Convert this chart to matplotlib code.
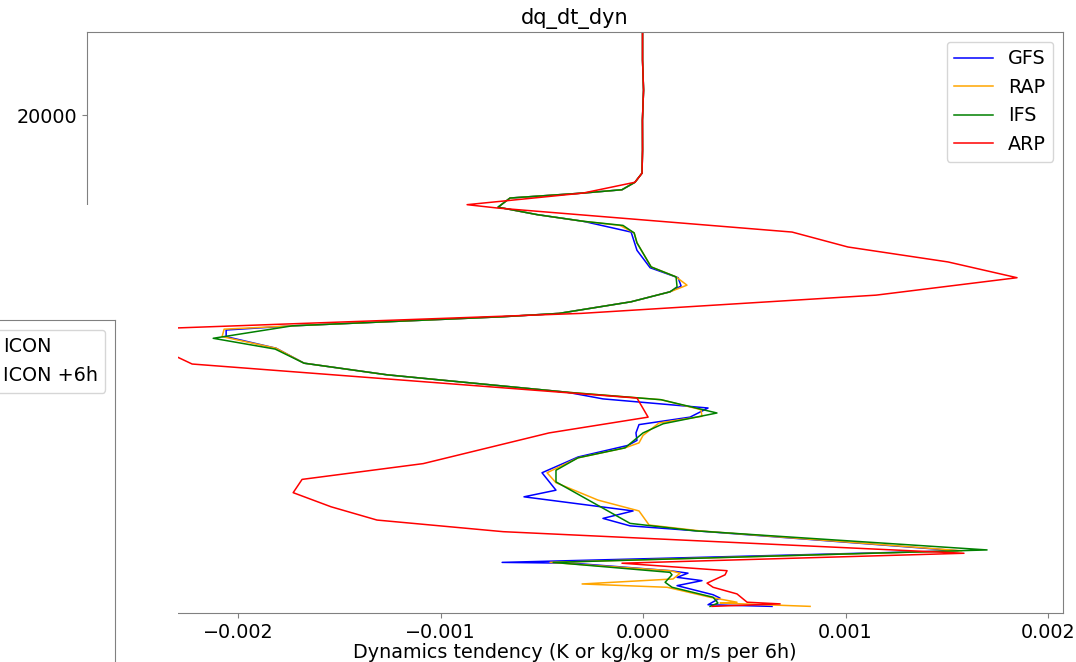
import matplotlib
matplotlib.use('Agg')
import matplotlib.pyplot as plt
from matplotlib.patches import Rectangle

plt.rcParams['font.size'] = 13.8

# perfiles de tendencia dinámica (x) contra presión en Pa (y)
p_gfs = [9000, 13400, 17000, 20600, 24200, 27000, 28100, 29000, 29400, 30000, 31100, 32000,
         32800, 34100, 36300, 38400, 39600, 40600, 41300, 42500, 43900, 44300, 45400, 45900,
         46700, 48100, 49900, 51300, 53400, 54200, 55300, 56400, 57300, 58300, 59200, 59800,
         61200, 63100, 65200, 66000, 67700, 68600, 69500, 70100, 72500, 73900, 74000, 74900,
         75200, 75700, 76100, 76700, 77800, 78200, 79000, 79200]
gfs = [-0.0000025, -0.0000025, 0.0000025, -0.000003, -0.0000025, -0.000005, -0.00004, -0.000104,
       -0.000296, -0.000657, -0.000716, -0.000523, -0.000296, -0.000059, -0.00003, 0.000035,
       0.000173, 0.000188, 0.000133, -0.000059, -0.000415, -0.000691, -0.001733, -0.002059,
       -0.002059, -0.001812, -0.001674, -0.001264, -0.000375, -0.000198, 0.000321, 0.000232,
       -0.00002, -0.000035, -0.00003, -0.000074, -0.000321, -0.000499, -0.00043, -0.000588,
       -0.000049, -0.000198, -0.000064, 0.000265, 0.001556, -0.000696, -0.000346, 0.000133,
       0.000222, 0.000168, 0.000291, 0.000168, 0.000346, 0.00038, 0.000321, 0.000637]

p_rap = [9000, 13400, 17000, 20600, 24200, 27000, 28100, 29000, 29400, 30000, 31100, 32000,
         32800, 33300, 34200, 35400, 38300, 39500, 40500, 41300, 42500, 43900, 44300, 45400,
         45800, 46700, 48100, 49900, 51300, 53400, 54300, 55500, 56300, 57100, 58600, 59500,
         60100, 61300, 63100, 64300, 66400, 67700, 69400, 70100, 72500, 73900, 74900, 75200,
         75900, 76500, 76900, 78100, 78700, 78800, 79200]
rap = [-0.0000025, -0.0000025, 0.0000025, -0.000003, -0.0000025, -0.000005, -0.00004, -0.000104,
       -0.000296, -0.000657, -0.000716, -0.000523, -0.000296, -0.000114, -0.000044, -0.00003,
       0.00004, 0.000163, 0.000217, 0.000133, -0.000059, -0.000415, -0.000691, -0.001733,
       -0.002069, -0.002079, -0.001812, -0.001674, -0.001264, -0.000375, 0.000089, 0.000286,
       0.000291, 0.000079, 0.0, -0.00002, -0.000089, -0.000321, -0.000474, -0.00043, -0.000222,
       -0.00002, 0.00003, 0.00028, 0.001575, -0.000459, 0.000133, 0.000183, 0.000148,
       -0.000301, 0.000119, 0.000331, 0.000464, 0.00038, 0.000825]

p_ifs = [9000, 13400, 17000, 20600, 24200, 27000, 28100, 29000, 29400, 30000, 31100, 32000,
         32800, 33300, 34200, 35400, 38300, 39500, 40700, 41300, 42500, 43900, 44300, 45400,
         46900, 48200, 49900, 51300, 53400, 54300, 55900, 57200, 58300, 60100, 61300, 62800,
         64200, 66700, 69200, 70100, 72400, 73900, 75100, 75400, 76300, 76900, 78100, 78800,
         79200]
ifs = [-0.0000025, -0.0000025, 0.0000025, -0.000003, -0.0000025, -0.000005, -0.00004, -0.000104,
       -0.000296, -0.000657, -0.000716, -0.000523, -0.000296, -0.000099, -0.000044, -0.00003,
       0.00004, 0.000163, 0.000168, 0.000133, -0.000059, -0.000415, -0.000691, -0.001733,
       -0.002123, -0.001817, -0.001674, -0.001264, -0.000375, 0.000089, 0.000365, 0.000099, 0.0,
       -0.000089, -0.000321, -0.00043, -0.00043, -0.000247, -0.000064, 0.00026, 0.001699,
       -0.000444, 0.000133, 0.000143, 0.000109, 0.000143, 0.000346, 0.00037, 0.000331]

p_arp = [9000, 13400, 17000, 20600, 24200, 27000, 28100, 29400, 30800, 31200, 34100, 35900,
         37700, 39600, 41700, 43900, 45900, 50000, 54100, 56400, 58300, 62000, 63900, 65500,
         67200, 68800, 70200, 72800, 74000, 74900, 75400, 76400, 76900, 77700, 78700, 78900,
         79200]
arp = [-0.0000025, -0.0000025, 0.0000025, -0.000003, -0.0000025, -0.000005, -0.00004, -0.000296,
       -0.000869, -0.000721, 0.000736, 0.001012, 0.001506, 0.001847, 0.001151, -0.000306,
       -0.002583, -0.002227, -0.00003, 0.000025, -0.000464, -0.001086, -0.001684, -0.001728,
       -0.001541, -0.001314, -0.000691, 0.001585, -0.000104, 0.000415, 0.000405, 0.000316,
       0.000346, 0.000464, 0.000514, 0.000677, 0.000341]

modelos = ['GFS', 'RAP', 'IFS', 'ARP']
colores = ['blue', 'orange', 'green', 'red']
etiquetas_icon = ['ICON', 'ICON +6h']

fig = plt.figure(figsize=(10.76, 6.62), dpi=100)
ax = fig.add_axes([0.0809, 0.074, 0.907, 0.8776])

for x, p, nombre, c in zip([gfs, rap, ifs, arp], [p_gfs, p_rap, p_ifs, p_arp], modelos, colores):
    ax.plot(x, p, color=c, lw=1.1, label=nombre)

ax.set_xlim(-0.002746, 0.002074)
ax.set_ylim(80000, 10000)
ax.set_yticks([20000, 40000, 60000, 80000])
ax.set_xticks([-0.002, -0.001, 0.0, 0.001, 0.002])
ax.set_title('dq_dt_dyn', fontsize=15)
ax.set_xlabel('Dynamics tendency (K or kg/kg or m/s per 6h)', labelpad=1)
ax.legend(loc='upper right')
for s in ax.spines.values():
    s.set_color('0.5')
ax.tick_params(colors='0.5', labelcolor='black')

# tapa blanca sobre la esquina inferior izquierda
tapa = Rectangle((0, 0), 178 / 1076, 457 / 662, transform=fig.transFigure,
                 facecolor='white', edgecolor='none', zorder=1)
fig.add_artist(tapa)

# panel de ICON que queda cortado por el borde
ax2 = fig.add_axes([-0.2, -0.2, 0.2 + 115 / 1076, 0.2 + 342 / 662])
ax2.set_zorder(2)
ax2.set_xticks([])
ax2.set_yticks([])
for s in ax2.spines.values():
    s.set_color('0.5')
ax2.plot([], [], color='black', label=etiquetas_icon[0])
ax2.plot([], [], color='gray', label=etiquetas_icon[1])
ax2.legend(loc='upper right')

fig.savefig('out.png', dpi=100)
